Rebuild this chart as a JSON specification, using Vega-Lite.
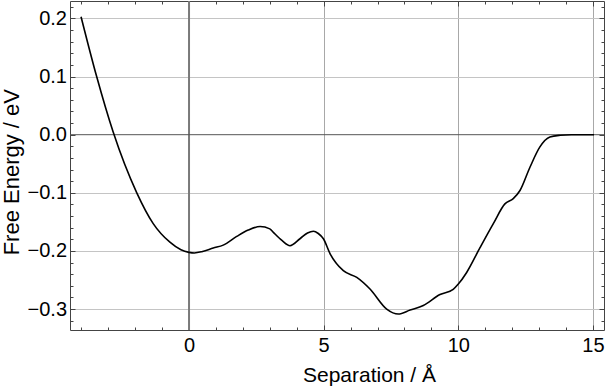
{
  "$schema": "https://vega.github.io/schema/vega-lite/v6.json",
  "width": 534,
  "height": 329,
  "autosize": {"type": "none"},
  "padding": {"left": 70, "top": 1, "right": 1, "bottom": 56},
  "background": "white",
  "config": {
    "view": {"stroke": null},
    "font": "Liberation Sans",
    "axis": {
      "domainColor": "#444",
      "domainWidth": 1,
      "tickColor": "#444",
      "tickWidth": 1,
      "labelColor": "black",
      "titleColor": "black",
      "labelFont": "Liberation Sans",
      "titleFont": "Liberation Sans",
      "labelFontSize": 20,
      "titleFontSize": 21,
      "titleFontWeight": "normal",
      "labelOverlap": false,
      "labelFlush": false
    }
  },
  "datasets": {
    "fe": [
      {"x": -4.01, "y": 0.203},
      {"x": -3.43, "y": 0.1},
      {"x": -2.82, "y": 0.005},
      {"x": -1.94, "y": -0.1},
      {"x": -1.33, "y": -0.153},
      {"x": -0.71, "y": -0.185},
      {"x": -0.3, "y": -0.198},
      {"x": 0.0, "y": -0.2024},
      {"x": 0.2, "y": -0.2035},
      {"x": 0.5, "y": -0.201},
      {"x": 0.9, "y": -0.195},
      {"x": 1.27, "y": -0.19},
      {"x": 1.77, "y": -0.175},
      {"x": 2.2, "y": -0.164},
      {"x": 2.64, "y": -0.158},
      {"x": 3.0, "y": -0.162},
      {"x": 3.13, "y": -0.168},
      {"x": 3.45, "y": -0.182},
      {"x": 3.75, "y": -0.191},
      {"x": 4.12, "y": -0.179},
      {"x": 4.4, "y": -0.169},
      {"x": 4.62, "y": -0.166},
      {"x": 4.8, "y": -0.17},
      {"x": 4.99, "y": -0.179},
      {"x": 5.24, "y": -0.205},
      {"x": 5.73, "y": -0.234},
      {"x": 6.23, "y": -0.2455},
      {"x": 6.72, "y": -0.2655},
      {"x": 7.34, "y": -0.3},
      {"x": 7.77, "y": -0.3086},
      {"x": 8.21, "y": -0.3017},
      {"x": 8.7, "y": -0.294},
      {"x": 9.32, "y": -0.275},
      {"x": 9.81, "y": -0.266},
      {"x": 10.0, "y": -0.257},
      {"x": 10.31, "y": -0.237},
      {"x": 10.81, "y": -0.194},
      {"x": 11.3, "y": -0.153},
      {"x": 11.73, "y": -0.119},
      {"x": 12.04, "y": -0.11},
      {"x": 12.29, "y": -0.096},
      {"x": 12.66, "y": -0.056},
      {"x": 13.03, "y": -0.021},
      {"x": 13.4, "y": -0.004},
      {"x": 13.78, "y": -0.001},
      {"x": 14.2, "y": 0.0},
      {"x": 15.04, "y": 0.0}
    ]
  },
  "layer": [
    {
      "data": {"values": [{}]},
      "mark": {"type": "rule", "color": "#7a7a7a", "strokeWidth": 2},
      "encoding": {
        "x": {
          "datum": 0,
          "type": "quantitative",
          "scale": {"domain": [-4.42, 15.41], "nice": false, "zero": false},
          "axis": {
            "orient": "bottom",
            "values": [-4, -3, -2, -1, 0, 1, 2, 3, 4, 5, 6, 7, 8, 9, 10, 11, 12, 13, 14, 15],
            "labelExpr": "datum.value % 5 === 0 ? datum.label : ''",
            "tickSize": {"condition": {"test": "datum.value % 5 === 0", "value": -5}, "value": -3},
            "labelPadding": 10,
            "grid": true,
            "gridColor": "#a8a8a8",
            "gridWidth": 1,
            "gridOpacity": {"condition": {"test": "datum.value % 5 === 0 && datum.value !== 0", "value": 1}, "value": 0},
            "title": "Separation / Å",
            "titleX": 299,
            "titleY": 51,
            "titleAlign": "center",
            "titleBaseline": "alphabetic"
          }
        }
      }
    },
    {
      "data": {"values": [{}]},
      "mark": {"type": "rule", "color": "#555", "strokeWidth": 1},
      "encoding": {
        "y": {
          "datum": 0,
          "type": "quantitative",
          "scale": {"domain": [-0.336, 0.23], "nice": false, "zero": false},
          "axis": {
            "orient": "left",
            "values": [-0.32, -0.3, -0.28, -0.26, -0.24, -0.22, -0.2, -0.18, -0.16, -0.14, -0.12, -0.1, -0.08, -0.06, -0.04, -0.02, 0, 0.02, 0.04, 0.06, 0.08, 0.1, 0.12, 0.14, 0.16, 0.18, 0.2, 0.22],
            "format": ".1f",
            "labelExpr": "abs(datum.value * 10 - round(datum.value * 10)) < 0.001 ? datum.label : ''",
            "tickSize": {"condition": {"test": "abs(datum.value * 10 - round(datum.value * 10)) < 0.001", "value": -5}, "value": -3},
            "labelPadding": 8.5,
            "grid": true,
            "gridColor": "#c4c4c4",
            "gridWidth": 1,
            "gridOpacity": {"condition": {"test": "abs(datum.value * 10 - round(datum.value * 10)) < 0.001 && abs(datum.value) > 0.001", "value": 1}, "value": 0},
            "title": "Free Energy / eV",
            "titleFontSize": 22,
            "titleX": -52,
            "titleY": 170.7,
            "titleAlign": "center",
            "titleBaseline": "alphabetic",
            "titleAngle": 270
          }
        }
      }
    },
    {
      "data": {"name": "fe"},
      "mark": {"type": "line", "color": "black", "strokeWidth": 1.6, "interpolate": "monotone"},
      "encoding": {
        "x": {
          "field": "x",
          "type": "quantitative",
          "scale": {"domain": [-4.42, 15.41], "nice": false, "zero": false},
          "axis": {
            "orient": "top",
            "values": [-4, -3, -2, -1, 0, 1, 2, 3, 4, 5, 6, 7, 8, 9, 10, 11, 12, 13, 14, 15],
            "labels": false,
            "grid": false,
            "tickSize": {"condition": {"test": "datum.value % 5 === 0", "value": -5}, "value": -3},
            "title": null
          }
        },
        "y": {
          "field": "y",
          "type": "quantitative",
          "scale": {"domain": [-0.336, 0.23], "nice": false, "zero": false},
          "axis": {
            "orient": "right",
            "values": [-0.32, -0.3, -0.28, -0.26, -0.24, -0.22, -0.2, -0.18, -0.16, -0.14, -0.12, -0.1, -0.08, -0.06, -0.04, -0.02, 0, 0.02, 0.04, 0.06, 0.08, 0.1, 0.12, 0.14, 0.16, 0.18, 0.2, 0.22],
            "labels": false,
            "grid": false,
            "tickSize": {"condition": {"test": "abs(datum.value * 10 - round(datum.value * 10)) < 0.001", "value": -5}, "value": -3},
            "title": null
          }
        }
      }
    }
  ],
  "resolve": {"axis": {"x": "independent", "y": "independent"}}
}
